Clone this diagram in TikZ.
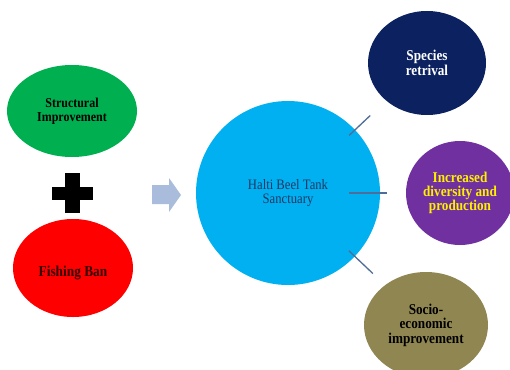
\documentclass[tikz,border=0pt]{standalone}
\usepackage{fontspec}
\setmainfont[FakeStretch=0.88]{Liberation Serif}
\usetikzlibrary{shapes.geometric,calc}
\definecolor{cgreen}{RGB}{0,176,80}
\definecolor{cred}{RGB}{255,0,0}
\definecolor{ccyan}{RGB}{0,176,240}
\definecolor{cnavy}{RGB}{12,34,96}
\definecolor{cpurple}{RGB}{112,48,160}
\definecolor{colive}{RGB}{143,134,82}
\definecolor{ctext}{RGB}{31,56,100}
\definecolor{cyell}{RGB}{255,240,0}
\definecolor{cban}{RGB}{50,0,0}
\definecolor{cline}{RGB}{79,109,154}
\definecolor{carrow}{RGB}{170,188,220}
\tikzset{
  blob/.style={ellipse, inner sep=0pt, align=center, font=\bfseries\fontsize{15}{14.5}\selectfont},
  spoke/.style={draw=cline, line width=1.3pt}
}
\begin{document}
\begin{tikzpicture}[x=1pt,y=-1pt]
\useasboundingbox (0,0) rectangle (510,369);
\clip (0,0) rectangle (510,369);
\fill[white] (0,0) rectangle (510,369);
% left ellipses
\node[blob, fill=cgreen, minimum width=130, minimum height=92, font=\bfseries\fontsize{13.6}{14}\selectfont] (struct) at (72,111) {Structural\\Improvement};
\node[ellipse, fill=cred, minimum width=120, minimum height=98, inner sep=0pt] (ban) at (73,268) {};
\node[text=cban, font=\bfseries\fontsize{15.2}{15}\selectfont, inner sep=0pt] (bantext) at ($(ban.center)+(0,5)$) {Fishing Ban};
% plus sign
\fill[black] (65,173) rectangle (80,213);
\fill[black] (52,187) rectangle (93,200);
% arrow
\fill[carrow] (152,185) -- (169,185) -- (169,178) -- (181,195) -- (169,212) -- (169,204) -- (152,204) -- cycle;
% hub
\node[circle, fill=ccyan, minimum size=184, inner sep=0pt, align=center, text=ctext, font=\fontsize{14.4}{13.5}\selectfont] (hub) at (288,193) {Halti Beel Tank\\Sanctuary};
% outcomes
\node[blob, fill=cnavy, text=white, minimum width=118, minimum height=104, font=\bfseries\fontsize{15}{15}\selectfont] (species) at (427,63) {Species\\retrival};
\node[blob, fill=cpurple, text=cyell, minimum width=108, minimum height=104, font=\bfseries\fontsize{15}{13.7}\selectfont] (div) at (460,193) {Increased\\diversity and\\production};
\node[blob, fill=colive, text=black, minimum width=124, minimum height=106] (socio) at (426,325) {Socio-\\economic\\improvement};
% spokes
\coordinate (s1a) at ($(hub.center)+(43.5:84)$);
\coordinate (s1b) at ($(hub.center)+(43.5:117)$);
\coordinate (s2a) at ($(hub.center)+(0:61)$);
\coordinate (s2b) at ($(hub.center)+(0:99)$);
\coordinate (s3a) at ($(hub.center)+(-43.3:84)$);
\coordinate (s3b) at ($(hub.center)+(-43.3:113)$);
\draw[spoke] (s1a) -- (s1b);
\draw[spoke] (s2a) -- (s2b);
\draw[spoke] (s3a) -- (s3b);
\end{tikzpicture}
\end{document}
